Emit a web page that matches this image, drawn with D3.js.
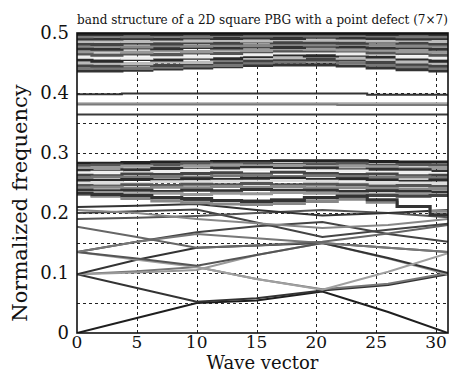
<!DOCTYPE html>
<html>
<head>
<meta charset="utf-8">
<script src="https://cdn.jsdelivr.net/npm/d3@7/dist/d3.min.js"></script>
<style>
  body { margin: 0; background: #fff; }
  svg { display: block; }
  text { font-family: "DejaVu Serif", "Liberation Serif", serif; fill: #111; }
</style>
</head>
<body>
<svg id="chart" width="457" height="374"></svg>
<script>
// k-points along the path (Gamma - X - M - Gamma)
const kCoarse = [0, 5, 10, 15, 20.5, 26, 31];
const kFine = [0, 2.5, 5, 7.5, 10, 12.5, 15, 17.5, 20.5, 23, 25.5, 28, 31];

const xTicks = [0, 5, 10, 15, 20, 25, 30];
const yTicks = [0, 0.1, 0.2, 0.3, 0.4, 0.5];
const yGrid = [0.05, 0.1, 0.15, 0.2, 0.25, 0.3, 0.35, 0.4, 0.45];

// dispersive low bands, read at kCoarse
const lowBands = [
  [0, 0.025, 0.05, 0.054, 0.069, 0.035, 0],
  [0.098, 0.075, 0.052, 0.058, 0.071, 0.08, 0.098],
  [0.098, 0.103, 0.11, 0.09, 0.073, 0.082, 0.1],
  [0.098, 0.101, 0.105, 0.13, 0.15, 0.124, 0.098],
  [0.098, 0.122, 0.142, 0.146, 0.15, 0.125, 0.1],
  [0.135, 0.122, 0.11, 0.09, 0.072, 0.102, 0.133],
  [0.135, 0.124, 0.112, 0.13, 0.15, 0.142, 0.135],
  [0.135, 0.152, 0.168, 0.178, 0.185, 0.165, 0.152],
  [0.135, 0.152, 0.165, 0.158, 0.15, 0.142, 0.135],
  [0.177, 0.16, 0.142, 0.146, 0.152, 0.166, 0.18],
  [0.2, 0.203, 0.206, 0.184, 0.16, 0.172, 0.182],
  [0.19, 0.192, 0.195, 0.2, 0.205, 0.2, 0.193],
  [0.205, 0.2, 0.19, 0.183, 0.175, 0.18, 0.19],
  [0.21, 0.212, 0.215, 0.205, 0.196, 0.2, 0.205]
];
const lowShade = ["#1e1e1e", "#333", "#777", "#9a9a9a", "#333", "#a0a0a0", "#555",
  "#444", "#777", "#666", "#444", "#555", "#888", "#333"];

// flat defect modes in the gap
const defectBands = [
  [0.398, 0.398, 0.399, 0.399, 0.399, 0.399, 0.399, 0.399, 0.399, 0.399, 0.397, 0.397, 0.397],
  [0.383, 0.383, 0.383, 0.383, 0.383, 0.383, 0.383, 0.383, 0.383, 0.383, 0.383, 0.383, 0.383],
  [0.381, 0.381, 0.381, 0.381, 0.381, 0.381, 0.381, 0.381, 0.381, 0.38, 0.38, 0.38, 0.38],
  [0.364, 0.364, 0.364, 0.364, 0.364, 0.364, 0.364, 0.364, 0.364, 0.364, 0.364, 0.364, 0.364]
];
const defectShade = ["#333", "#a8a8a8", "#7a7a7a", "#3a3a3a"];

// dense bands below the gap, read at kFine
const midBands = [
  [0.283, 0.283, 0.284, 0.285, 0.285, 0.286, 0.286, 0.287, 0.287, 0.287, 0.286, 0.285, 0.285],
  [0.279, 0.28, 0.279, 0.281, 0.283, 0.282, 0.283, 0.281, 0.282, 0.283, 0.28, 0.281, 0.28],
  [0.275, 0.276, 0.278, 0.276, 0.278, 0.28, 0.278, 0.279, 0.277, 0.278, 0.277, 0.275, 0.276],
  [0.271, 0.27, 0.272, 0.274, 0.272, 0.275, 0.276, 0.274, 0.275, 0.272, 0.273, 0.272, 0.27],
  [0.267, 0.268, 0.266, 0.269, 0.271, 0.269, 0.272, 0.271, 0.27, 0.27, 0.267, 0.268, 0.266],
  [0.263, 0.262, 0.265, 0.264, 0.266, 0.267, 0.265, 0.268, 0.266, 0.264, 0.265, 0.262, 0.263],
  [0.258, 0.26, 0.259, 0.261, 0.26, 0.262, 0.263, 0.261, 0.262, 0.261, 0.259, 0.26, 0.258],
  [0.254, 0.254, 0.256, 0.255, 0.257, 0.256, 0.258, 0.258, 0.256, 0.257, 0.255, 0.253, 0.255],
  [0.25, 0.251, 0.249, 0.252, 0.251, 0.253, 0.252, 0.254, 0.253, 0.25, 0.251, 0.25, 0.249],
  [0.246, 0.245, 0.247, 0.246, 0.248, 0.247, 0.249, 0.247, 0.248, 0.247, 0.245, 0.246, 0.244],
  [0.242, 0.243, 0.241, 0.243, 0.242, 0.244, 0.243, 0.244, 0.242, 0.242, 0.241, 0.24, 0.241],
  [0.238, 0.237, 0.238, 0.236, 0.238, 0.237, 0.239, 0.238, 0.238, 0.236, 0.237, 0.236, 0.235],
  [0.234, 0.234, 0.232, 0.233, 0.231, 0.233, 0.232, 0.234, 0.233, 0.232, 0.231, 0.232, 0.23],
  [0.232, 0.23, 0.227, 0.225, 0.222, 0.221, 0.22, 0.222, 0.225, 0.228, 0.229, 0.228, 0.229],
  [0.231, 0.228, 0.224, 0.22, 0.217, 0.215, 0.214, 0.216, 0.219, 0.223, 0.218, 0.211, 0.203],
  [0.233, 0.231, 0.229, 0.226, 0.224, 0.221, 0.219, 0.221, 0.226, 0.228, 0.222, 0.211, 0.197]
];
const midShade = ["#222", "#555", "#999", "#333", "#eee", "#444", "#777", "#2a2a2a",
  "#ddd", "#555", "#888", "#333", "#999", "#444", "#888", "#333"];

// dense bands above the gap, read at kFine
const topBands = [
  [0.437, 0.437, 0.438, 0.44, 0.442, 0.444, 0.446, 0.447, 0.447, 0.445, 0.442, 0.439, 0.437],
  [0.441, 0.442, 0.441, 0.443, 0.445, 0.446, 0.45, 0.452, 0.453, 0.45, 0.447, 0.444, 0.441],
  [0.446, 0.445, 0.447, 0.446, 0.449, 0.451, 0.454, 0.456, 0.456, 0.455, 0.451, 0.448, 0.445],
  [0.45, 0.45, 0.449, 0.452, 0.451, 0.455, 0.458, 0.459, 0.461, 0.458, 0.456, 0.452, 0.45],
  [0.455, 0.453, 0.456, 0.455, 0.458, 0.457, 0.461, 0.464, 0.462, 0.463, 0.46, 0.457, 0.453],
  [0.46, 0.46, 0.458, 0.461, 0.46, 0.463, 0.464, 0.467, 0.468, 0.465, 0.465, 0.46, 0.459],
  [0.465, 0.463, 0.465, 0.464, 0.467, 0.466, 0.469, 0.47, 0.47, 0.47, 0.467, 0.466, 0.463],
  [0.469, 0.47, 0.468, 0.47, 0.469, 0.472, 0.471, 0.474, 0.473, 0.472, 0.472, 0.469, 0.468],
  [0.474, 0.473, 0.475, 0.474, 0.476, 0.475, 0.477, 0.476, 0.478, 0.477, 0.475, 0.475, 0.473],
  [0.478, 0.479, 0.477, 0.479, 0.478, 0.48, 0.479, 0.481, 0.48, 0.481, 0.48, 0.478, 0.479],
  [0.482, 0.481, 0.483, 0.482, 0.484, 0.483, 0.485, 0.484, 0.484, 0.483, 0.485, 0.483, 0.482],
  [0.486, 0.487, 0.486, 0.488, 0.487, 0.488, 0.487, 0.489, 0.488, 0.489, 0.487, 0.488, 0.486],
  [0.49, 0.49, 0.491, 0.49, 0.492, 0.491, 0.492, 0.491, 0.493, 0.492, 0.491, 0.49, 0.491],
  [0.494, 0.495, 0.494, 0.495, 0.494, 0.496, 0.495, 0.496, 0.495, 0.496, 0.495, 0.494, 0.494],
  [0.498, 0.498, 0.499, 0.498, 0.499, 0.498, 0.499, 0.499, 0.499, 0.499, 0.498, 0.499, 0.498]
];
const topShade = ["#333", "#777", "#444", "#bbb", "#2a2a2a", "#eee", "#555", "#999",
  "#333", "#888", "#444", "#bbb", "#333", "#777", "#222"];

const width = 457, height = 374;
const margin = { top: 33, right: 9, bottom: 41, left: 77 };
const svg = d3.select("#chart");

const x = d3.scaleLinear().domain([0, 31]).range([margin.left, width - margin.right]);
const y = d3.scaleLinear().domain([0, 0.5]).range([height - margin.bottom, margin.top]);

svg.append("defs").append("clipPath").attr("id", "plotclip")
  .append("rect")
  .attr("x", x(0)).attr("y", y(0.5))
  .attr("width", x(31) - x(0)).attr("height", y(0) - y(0.5));

// dashed grid
const grid = svg.append("g").attr("stroke", "#222").attr("stroke-width", 1)
  .attr("stroke-dasharray", "3,3");
grid.selectAll("line.gx").data(xTicks.filter(d => d > 0)).enter().append("line")
  .attr("x1", d => Math.round(x(d)) + 0.5).attr("x2", d => Math.round(x(d)) + 0.5)
  .attr("y1", y(0)).attr("y2", y(0.5));
grid.selectAll("line.gy").data(yGrid).enter().append("line")
  .attr("x1", x(0)).attr("x2", x(31))
  .attr("y1", d => Math.round(y(d)) + 0.5).attr("y2", d => Math.round(y(d)) + 0.5);

const plot = svg.append("g").attr("clip-path", "url(#plotclip)");

const lineLow = d3.line().x((d, i) => x(kCoarse[i])).y(d => y(d));
const lineStep = d3.line().x((d, i) => x(kFine[i])).y(d => y(d)).curve(d3.curveStep);

plot.append("g").selectAll("path").data(lowBands).enter().append("path")
  .attr("d", lineLow).attr("fill", "none")
  .attr("stroke", (d, i) => lowShade[i]).attr("stroke-width", 2);

plot.append("g").selectAll("path").data(defectBands).enter().append("path")
  .attr("d", lineStep).attr("fill", "none")
  .attr("stroke", (d, i) => defectShade[i]).attr("stroke-width", 2);

plot.append("g").selectAll("path").data(midBands).enter().append("path")
  .attr("d", lineStep).attr("fill", "none")
  .attr("stroke", (d, i) => midShade[i]).attr("stroke-width", 3);

plot.append("g").selectAll("path").data(topBands).enter().append("path")
  .attr("d", lineStep).attr("fill", "none")
  .attr("stroke", (d, i) => topShade[i]).attr("stroke-width", 3.2);

// frame
svg.append("rect")
  .attr("x", x(0)).attr("y", y(0.5))
  .attr("width", x(31) - x(0)).attr("height", y(0) - y(0.5))
  .attr("fill", "none").attr("stroke", "#111").attr("stroke-width", 1.6);

// tick labels
svg.append("g").selectAll("text").data(xTicks).enter().append("text")
  .attr("x", d => x(d)).attr("y", 348)
  .attr("text-anchor", "middle").attr("font-size", 17)
  .text(d => d);

svg.append("g").selectAll("text").data(yTicks).enter().append("text")
  .attr("x", 69).attr("y", d => y(d) + 6)
  .attr("text-anchor", "end").attr("font-size", 18)
  .text(d => d === 0 ? "0" : d3.format(".1f")(d));

svg.append("text")
  .attr("x", x(15.5)).attr("y", 369)
  .attr("text-anchor", "middle").attr("font-size", 18)
  .text("Wave vector");

svg.append("text")
  .attr("transform", "translate(27,203) rotate(-90)")
  .attr("text-anchor", "middle").attr("font-size", 21)
  .text("Normalized frequency");

svg.append("text")
  .attr("x", x(15.5)).attr("y", 24)
  .attr("text-anchor", "middle").attr("font-size", 12)
  .text("band structure of a 2D square PBG with a point defect (7\u00d77)");
</script>
</body>
</html>
